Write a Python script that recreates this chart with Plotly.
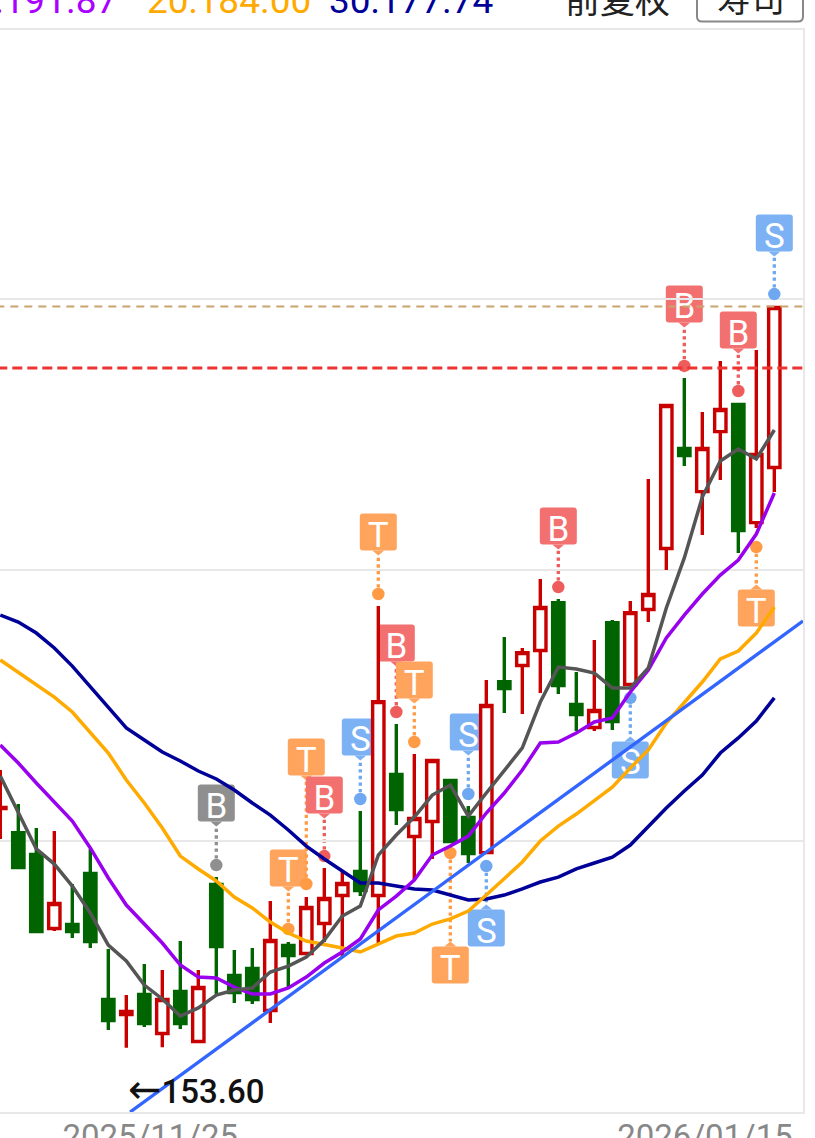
import plotly.graph_objects as go

# Daily candles (prices)
candle_idx = list(range(44))
opens = [170.10, 168.44, 166.93, 161.82, 162.10, 165.62, 156.92, 155.89, 157.27, 154.58, 157.47,
         154.02, 164.86, 158.58, 159.06, 156.16, 160.65, 160.10, 162.17, 164.10, 165.75, 164.10,
         172.45, 168.17, 169.20, 172.03, 169.48, 167.06, 178.86, 179.97, 181.00, 184.31,
         177.28, 175.69, 182.93, 178.66, 183.83, 188.04, 194.94, 191.97, 196.11, 197.98, 189.83, 193.63]
highs = [172.76, 170.41, 168.76, 168.55, 164.89, 167.31, 160.41, 157.23, 159.37, 158.96, 160.96,
         158.96, 165.37, 160.34, 160.48, 163.72, 160.89, 163.99, 165.99, 165.72, 169.93, 184.07,
         175.93, 173.86, 173.52, 172.14, 170.27, 178.97, 181.93, 181.18, 185.94, 184.56,
         179.52, 181.73, 183.11, 184.42, 192.84, 198.01, 199.81, 197.46, 200.98, 198.08, 201.74, 204.77]
lows = [168.00, 165.93, 161.51, 161.65, 161.17, 160.48, 154.82, 153.60, 155.02, 153.62, 154.89,
        153.92, 157.30, 156.68, 156.61, 155.30, 157.65, 159.99, 160.89, 159.85, 164.06, 160.82,
        168.96, 165.17, 166.62, 167.72, 166.34, 166.96, 176.69, 176.62, 178.07, 178.00,
        175.45, 175.45, 175.52, 178.55, 182.97, 186.56, 193.73, 188.97, 192.77, 187.73, 189.46, 191.94]
closes = [170.17, 166.03, 161.61, 163.55, 161.61, 160.92, 155.47, 156.09, 155.27, 156.92, 155.27,
          157.75, 160.58, 157.40, 156.92, 160.99, 159.96, 163.27, 163.89, 164.93, 164.44, 177.48,
          170.03, 169.41, 173.41, 167.82, 167.00, 177.21, 178.38, 180.86, 183.97, 178.59,
          176.59, 176.86, 176.10, 183.62, 184.87, 197.91, 194.46, 194.94, 197.63, 189.28, 194.53, 204.67]

# Moving averages
ma5 = [172.34, 169.79, 167.31, 166.27, 164.75, 162.89, 160.68, 159.58, 157.92, 156.96, 155.78,
       156.34, 157.23, 157.58, 157.72, 158.82, 159.23, 159.85, 161.03, 162.68, 163.37, 166.89,
       168.27, 169.51, 171.03, 171.72, 169.58, 171.17, 172.76, 174.28, 177.45, 179.86,
       179.73, 179.45, 178.42, 178.42, 179.80, 183.94, 187.39, 191.59, 194.08, 194.91, 194.22, 196.22]
ma10 = [174.48, 173.24, 171.86, 170.55, 169.24, 167.38, 165.31, 163.44, 162.13, 160.82, 159.30,
        158.47, 158.41, 157.78, 157.30, 157.30, 157.72, 158.47, 159.44, 160.20, 161.10, 163.10,
        164.06, 165.17, 166.89, 167.51, 168.20, 169.79, 171.17, 172.76, 174.62, 174.69,
        175.31, 176.07, 176.35, 178.14, 179.66, 181.87, 183.45, 184.90, 186.21, 187.25, 189.04, 191.87]
ma20 = [180.35, 179.52, 178.69, 177.79, 176.76, 175.38, 173.93, 172.07, 170.48, 168.76, 166.82,
        165.93, 165.10, 163.99, 163.24, 162.27, 161.51, 160.96, 160.75, 160.48, 160.20, 160.75,
        161.30, 161.51, 162.13, 162.48, 163.03, 164.13, 165.24, 166.41, 167.86, 168.89,
        169.72, 170.62, 171.58, 172.90, 174.14, 176.00, 177.45, 178.83, 180.42, 180.97, 182.21, 184.00]
ma30 = [183.45, 182.97, 182.21, 181.18, 179.93, 178.48, 177.04, 175.66, 174.83, 174.00, 173.38,
        172.69, 172.14, 171.38, 170.48, 169.65, 168.62, 167.51, 166.62, 165.79, 164.96, 164.96,
        164.75, 164.55, 164.48, 164.13, 163.79, 163.86, 164.13, 164.55, 165.03, 165.37,
        165.93, 166.34, 166.75, 167.58, 168.89, 170.14, 171.31, 172.41, 173.93, 174.97, 176.14, 177.74]

# Trend line and horizontal levels
trend_x = [7.21, 44.59]
trend_y = [149.16, 183.04]
level_red = 200.50
level_tan = 204.74

# Buy / sell signals: candle, letter, price of the dot, and how far the badge sits from the dot
signal_idx = [12, 16, 17, 18, 20, 21, 22, 23, 25, 26, 27, 31, 35, 38, 41, 42, 43]
signal_text = ['B', 'T', 'T', 'B', 'S', 'T', 'B', 'T', 'T', 'S', 'S', 'B', 'S', 'B', 'B', 'T', 'S']
signal_price = [166.20, 161.79, 164.89, 166.82, 170.76, 184.90, 176.76, 174.69, 167.03, 171.10, 166.13,
                185.38, 177.73, 200.64, 198.91, 188.14, 205.60]
signal_offset = [62, 61, 127, 61, 62, 62, 69, 62, -112, 62, -62, 61, -62, 62, 61, -61, 61]
signal_gray = [12]

tick_pos = [8.33, 39.15]
tick_text = ['2025/11/25', '2026/01/15']
grid_vals = [205.26, 186.56, 167.86]

BADGE_COLORS = {'B': '#f27070', 'T': '#ffa45c', 'S': '#7cb1f4'}
DOT_COLORS = {'B': '#ee5c5c', 'T': '#ff9a45', 'S': '#6fa8f0'}
GRAY = '#8f8f8f'
FRAME = '#e8e8e8'


def rounded_box(cy, half=18.5, r=3):
    # rounded square around pixel height cy, relative to the anchor
    l, rt, b, t = -half, half, cy - half, cy + half
    return (f'M {l + r} {b} L {rt - r} {b} Q {rt} {b} {rt} {b + r} L {rt} {t - r} Q {rt} {t} {rt - r} {t} '
            f'L {l + r} {t} Q {l} {t} {l} {t - r} L {l} {b + r} Q {l} {b} {l + r} {b} Z')


def paper_x(px):
    return px / 803


def paper_y(py):
    return (1112 - py) / 1082


fig = go.Figure()

shapes = []
dot_colors = []
for i, txt, price, off in zip(signal_idx, signal_text, signal_price, signal_offset):
    badge = GRAY if i in signal_gray else BADGE_COLORS[txt]
    dot = GRAY if i in signal_gray else DOT_COLORS[txt]
    dot_colors.append(dot)
    edge = off - 18.5 if off > 0 else off + 18.5
    tip = edge - 5 if off > 0 else edge + 5
    base = dict(xref='x', yref='y', xsizemode='pixel', ysizemode='pixel', xanchor=i, yanchor=price, layer='below')
    shapes.append(dict(type='line', x0=0, x1=0, y0=0, y1=tip, line=dict(color=dot, width=3.3, dash='dot'), **base))
    shapes.append(dict(type='path', path=f'M -6 {edge} L 6 {edge} L 0 {tip} Z', fillcolor=badge,
                       line=dict(width=0), **base))
    shapes.append(dict(type='path', path=rounded_box(off), fillcolor=badge, line=dict(width=0),
                       label=dict(text=txt, textposition='middle center',
                                  font=dict(family='Roboto', size=35, color='white')), **base))

# settings button at the top right, cut by the page edge
bl, br, bb = paper_x(697), paper_x(803), paper_y(21.5)
bt = paper_y(-5)
rx, ry = 5 / 803, 5 / 1082
shapes.append(dict(type='path', xref='paper', yref='paper', fillcolor='white',
                   line=dict(color='#888888', width=2),
                   path=f'M {bl} {bt} L {bl} {bb + ry} Q {bl} {bb} {bl + rx} {bb} L {br - rx} {bb} '
                        f'Q {br} {bb} {br} {bb + ry} L {br} {bt}'))

fig.add_trace(go.Candlestick(
    x=candle_idx, open=opens, high=highs, low=lows, close=closes,
    increasing=dict(line=dict(color='#c80000', width=3.4), fillcolor='white'),
    decreasing=dict(line=dict(color='#006400', width=3.4), fillcolor='#006400'),
    whiskerwidth=0, showlegend=False, hoverinfo='skip',
))

fig.add_trace(go.Scatter(x=signal_idx, y=signal_price, mode='markers',
                         marker=dict(size=12.5, color=dot_colors), showlegend=False, hoverinfo='skip'))

for vals, color in [(ma30, '#000099'), (ma20, '#ffaa00'), (ma10, '#9900ee'), (ma5, '#555555')]:
    fig.add_trace(go.Scatter(x=candle_idx, y=vals, mode='lines', line=dict(color=color, width=3.5),
                             showlegend=False, hoverinfo='skip'))

fig.add_trace(go.Scatter(x=trend_x, y=trend_y, mode='lines', line=dict(color='#3366ff', width=3.4),
                         showlegend=False, hoverinfo='skip'))
fig.add_trace(go.Scatter(x=[-1, 46], y=[level_red, level_red], mode='lines',
                         line=dict(color='#ee3333', width=3, dash='10px,5px'), showlegend=False, hoverinfo='skip'))
fig.add_trace(go.Scatter(x=[-1, 46], y=[level_tan, level_tan], mode='lines',
                         line=dict(color='#c9a46c', width=2, dash='8px,6px'), showlegend=False, hoverinfo='skip'))

# Header values, cut by the top of the page like in the screenshot
header = [(119, '10:191.87', '#aa00ff', 37), (313, '20:184.00', '#ffaa00', 37),
          (495, '30:177.74', '#000099', 37), (672, '前复权', '#222222', 35)]
annotations = []
for px, txt, color, size in header:
    annotations.append(dict(xref='paper', yref='paper', x=paper_x(px), y=1, xanchor='right', yanchor='bottom',
                            yshift=6, text=txt, showarrow=False,
                            font=dict(family='Roboto, Noto Sans CJK SC', size=size, color=color)))
annotations.append(dict(xref='paper', yref='paper', x=paper_x(751), y=1, xanchor='center', yanchor='bottom',
                        yshift=6, text='寿司', showarrow=False,
                        font=dict(family='Noto Sans CJK SC', size=34, color='#222222')))
annotations.append(dict(xref='x', yref='y', x=7, y=149.16, xanchor='left', yanchor='bottom', yshift=-2,
                        text='<span style="font-family:DejaVu Sans;font-size:40px">←</span>153.60', showarrow=False,
                        font=dict(family='Roboto', size=33, color='#111111', weight=500)))

fig.update_layout(
    width=815, height=1138, autosize=False,
    margin=dict(l=0, r=12, t=30, b=26),
    paper_bgcolor='white', plot_bgcolor='white',
    boxgap=0.37, boxgroupgap=0, showlegend=False,
    shapes=shapes, annotations=annotations,
    xaxis=dict(range=[-0.017, 44.594], rangeslider=dict(visible=False), tickmode='array', automargin=False,
               tickvals=tick_pos, ticktext=tick_text, ticks='', showgrid=False, zeroline=False,
               tickangle=0, showline=True, mirror=True, linecolor=FRAME, linewidth=2, ticklabelstandoff=-6,
               tickfont=dict(family='Roboto', size=33, color='#888888')),
    yaxis=dict(range=[149.16, 223.82], side='right', showticklabels=False, ticks='', tickmode='array',
               automargin=False, tickvals=grid_vals, showgrid=True, gridcolor=FRAME, gridwidth=2,
               zeroline=False, showline=True, linecolor=FRAME, linewidth=2),
)

fig.write_html('out.html', post_script="document.body.style.margin='0';document.body.style.overflow='hidden';",
               config=dict(displayModeBar=False))
